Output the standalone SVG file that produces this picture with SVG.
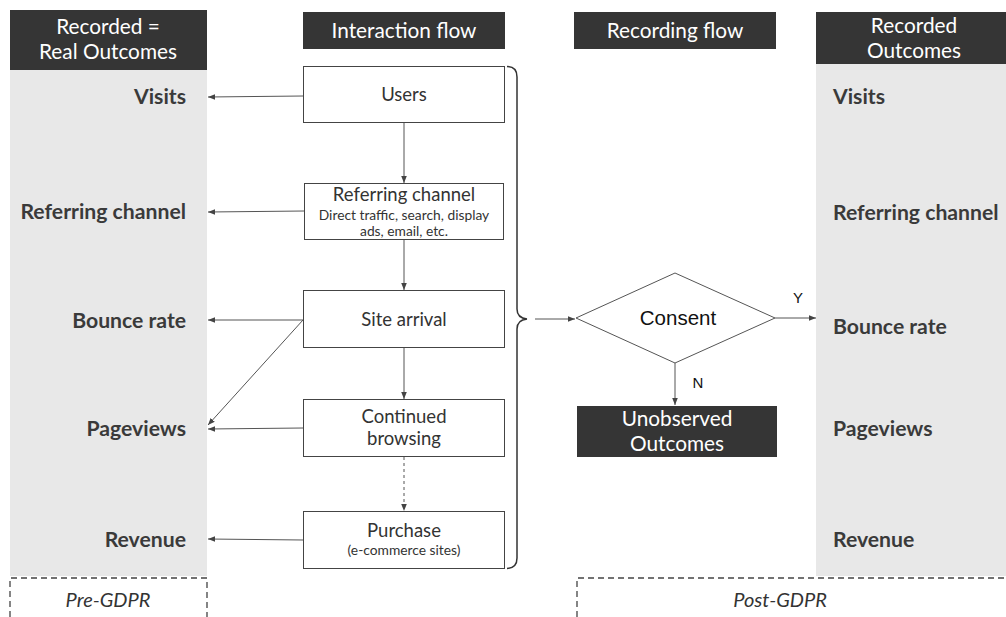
<svg xmlns="http://www.w3.org/2000/svg" width="1006" height="617" viewBox="0 0 1006 617">
<defs>
<marker id="ah" viewBox="0 0 10 10" refX="10" refY="5" markerWidth="7" markerHeight="7" orient="auto-start-reverse" markerUnits="userSpaceOnUse"><path d="M0,1 L10,5 L0,9 z" fill="#444"/></marker>
<style>
.hdr{fill:#353535}
.col{fill:#e8e8e8}
.ht{font-family:Lato,"Liberation Sans",sans-serif;font-size:20.8px;fill:#fff;text-anchor:middle}
.lbl{font-family:Lato,"Liberation Sans",sans-serif;font-size:21.2px;font-weight:bold;fill:#3a3a3a}
.box{fill:#fff;stroke:#444;stroke-width:1}
.bt{font-family:Lato,"Liberation Sans",sans-serif;font-size:18.5px;fill:#333;text-anchor:middle}
.st{font-family:Lato,"Liberation Sans",sans-serif;font-size:13.8px;fill:#333;text-anchor:middle}
.ar{font-family:"Liberation Sans",Arial,sans-serif;fill:#111;text-anchor:middle}
.c{stroke:#555;stroke-width:1;fill:none;marker-end:url(#ah)}
.dash{fill:none;stroke:#444;stroke-width:1.3;stroke-dasharray:6,4}
.it{font-family:Lato,"Liberation Sans",sans-serif;font-size:20px;font-style:italic;fill:#333;text-anchor:middle}
</style>
</defs>
<rect width="1006" height="617" fill="#fff"/>

<g id="left-column">
<rect class="col" x="10" y="70" width="197" height="506"/>
<rect class="hdr" x="10" y="10" width="197" height="60"/>
<text class="ht" x="108" y="34">Recorded =</text>
<text class="ht" x="108" y="59">Real Outcomes</text>
<text class="lbl" x="186" y="104" text-anchor="end">Visits</text>
<text class="lbl" x="186" y="219" text-anchor="end">Referring channel</text>
<text class="lbl" x="186" y="328" text-anchor="end">Bounce rate</text>
<text class="lbl" x="186" y="436" text-anchor="end">Pageviews</text>
<text class="lbl" x="186" y="547" text-anchor="end">Revenue</text>
</g>

<g id="right-column">
<rect class="col" x="816" y="64" width="190" height="512"/>
<rect class="hdr" x="816" y="12" width="190" height="52"/>
<text class="ht" x="914" y="33">Recorded</text>
<text class="ht" x="914" y="58">Outcomes</text>
<text class="lbl" x="833" y="104">Visits</text>
<text class="lbl" x="833" y="220">Referring channel</text>
<text class="lbl" x="833" y="334">Bounce rate</text>
<text class="lbl" x="833" y="436">Pageviews</text>
<text class="lbl" x="833" y="547">Revenue</text>
</g>

<g id="interaction-header">
<rect class="hdr" x="303" y="12" width="202" height="37"/>
<text class="ht" x="404" y="38">Interaction flow</text>
</g>
<g id="recording-header">
<rect class="hdr" x="574" y="12" width="202" height="37"/>
<text class="ht" x="675" y="38">Recording flow</text>
</g>

<g id="users">
<rect class="box" x="303.5" y="66.5" width="201" height="56"/>
<text class="bt" x="404" y="101">Users</text>
</g>
<g id="referring">
<rect class="box" x="304.5" y="183.5" width="199" height="56"/>
<text class="bt" x="404" y="201">Referring channel</text>
<text class="st" x="404" y="220">Direct traffic, search, display</text>
<text class="st" x="404" y="236">ads, email, etc.</text>
</g>
<g id="site-arrival">
<rect class="box" x="303.5" y="290.5" width="201" height="57"/>
<text class="bt" x="404" y="326">Site arrival</text>
</g>
<g id="continued">
<rect class="box" x="303.5" y="399.5" width="201" height="57"/>
<text class="bt" x="404" y="423">Continued</text>
<text class="bt" x="404" y="445">browsing</text>
</g>
<g id="purchase">
<rect class="box" x="303.5" y="511.5" width="201" height="57"/>
<text class="bt" x="404" y="537">Purchase</text>
<text class="st" x="404" y="555" font-size="12.8">(e-commerce sites)</text>
</g>

<g id="brace">
<path d="M507,66.5 Q517,66.5 517,77 L517,309 Q517,318 527,319 Q517,320 517,329 L517,558 Q517,568 507,568.5" fill="none" stroke="#333" stroke-width="1.5"/>
</g>

<g id="consent">
<polygon points="576,318 675,273 775,318 675,363" fill="#fff" stroke="#555" stroke-width="1"/>
<text class="ar" x="678" y="325" font-size="20.5">Consent</text>
</g>

<g id="unobserved">
<rect class="hdr" x="577" y="406" width="200" height="51"/>
<text class="ht" x="677" y="426">Unobserved</text>
<text class="ht" x="677" y="451">Outcomes</text>
</g>

<g id="connectors">
<path class="c" d="M303,96 L208,97"/>
<path class="c" d="M304,211 L208,212"/>
<path class="c" d="M303,320 L208,320"/>
<path class="c" d="M303,320 L208,425"/>
<path class="c" d="M303,428 L208,429"/>
<path class="c" d="M303,540 L208,539"/>
<path class="c" d="M404,123 L404,183"/>
<path class="c" d="M404,240 L404,290"/>
<path class="c" d="M404,348 L404,399"/>
<path class="c" d="M404,457 L404,511" stroke-dasharray="3,3"/>
<path class="c" d="M535,319 L575,319"/>
<path class="c" d="M775,318 L816,318"/>
<path class="c" d="M675,363 L675,405"/>
<text class="ar" x="798" y="303" font-size="15">Y</text>
<text class="ar" x="698" y="388" font-size="15">N</text>
</g>

<g id="pre-gdpr">
<path class="dash" d="M10,617 L10,578 L207,578 L207,617"/>
<text class="it" x="108" y="607">Pre-GDPR</text>
</g>
<g id="post-gdpr">
<path class="dash" d="M577,617 L577,578 L1006,578"/>
<text class="it" x="780" y="607">Post-GDPR</text>
</g>
</svg>
